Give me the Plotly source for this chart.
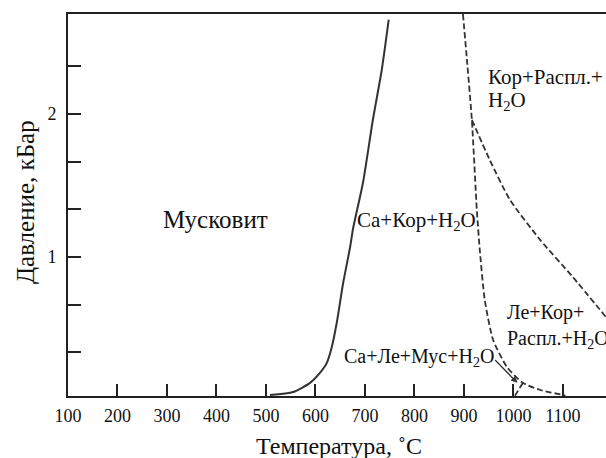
import plotly.graph_objects as go

# Solid curve: Muscovite breakdown
solid_T = [508, 555, 589, 609, 623, 633, 643, 656, 670, 676, 696, 716, 734, 748]
solid_P = [0.035, 0.056, 0.12, 0.19, 0.26, 0.37, 0.54, 0.82, 1.07, 1.20, 1.52, 1.96, 2.31, 2.66]

# Dashed curve A (steep, then bending to the right at low pressure)
dashA_T = [898, 906, 916, 926, 932, 942, 959, 987, 1019, 1054, 1100, 1105]
dashA_P = [2.70, 2.38, 1.96, 1.33, 1.05, 0.70, 0.42, 0.23, 0.12, 0.07, 0.035, 0.03]

# Dashed curve B (branching off A at ~2 kbar)
dashB_T = [916, 952, 993, 1054, 1120, 1187]
dashB_P = [1.96, 1.68, 1.40, 1.12, 0.86, 0.58]

# Short dashed segment near the arrow
dashC_T = [1003, 1019]
dashC_P = [0.03, 0.12]

x_tickvals = [100, 200, 300, 400, 500, 600, 700, 800, 900, 1000, 1100]
y_tickvals = [1/3, 2/3, 1, 4/3, 5/3, 2, 7/3]
y_ticktext = ["", "", "1", "", "", "2", ""]

line_col = "#333333"
axis_col = "#222222"
font_fam = "Liberation Serif"

fig = go.Figure()
fig.add_trace(go.Scatter(x=solid_T, y=solid_P, mode="lines",
                         line=dict(color=line_col, width=2, shape="spline", smoothing=0.6),
                         showlegend=False, hoverinfo="skip"))
for tx, py in [(dashA_T, dashA_P), (dashB_T, dashB_P), (dashC_T, dashC_P)]:
    fig.add_trace(go.Scatter(x=tx, y=py, mode="lines",
                             line=dict(color=line_col, width=1.8, dash="6px,3px",
                                       shape="spline", smoothing=0.6),
                             showlegend=False, hoverinfo="skip"))

ann = [
    dict(x=398, y=1.26, text="Мусковит", size=25, xanchor="center"),
    dict(x=804, y=1.25, text="Ca+Кор+H<sub>2</sub>O", size=21, xanchor="center"),
    dict(x=944, y=2.26, text="Кор+Распл.+", size=21, xanchor="left"),
    dict(x=944, y=2.09, text="H<sub>2</sub>O", size=21, xanchor="left"),
    dict(x=983, y=0.61, text="Ле+Кор+", size=20, xanchor="left"),
    dict(x=983, y=0.42, text="Распл.+H<sub>2</sub>O", size=20, xanchor="left"),
    dict(x=653, y=0.295, text="Ca+Ле+Мус+H<sub>2</sub>O", size=20, xanchor="left"),
]
annotations = []
for a in ann:
    annotations.append(dict(x=a["x"], y=a["y"], text=a["text"], xanchor=a["xanchor"],
                            yanchor="middle", xref="x", yref="y", showarrow=False,
                            font=dict(family=font_fam, size=a["size"], color="#111111")))

annotations.append(dict(x=1008, y=0.12, ax=960, ay=0.29, xref="x", yref="y",
                        axref="x", ayref="y", text="", showarrow=True,
                        arrowhead=2, arrowsize=1, arrowwidth=1.3, arrowcolor=line_col))
annotations.append(dict(x=(339 - 68) / 538, y=(396 - 446) / 382, xref="paper", yref="paper",
                        text="Температура, ˚C", showarrow=False,
                        font=dict(family=font_fam, size=24, color="#111111"),
                        xanchor="center", yanchor="middle"))
annotations.append(dict(x=(25 - 68) / 538, y=(396 - 202) / 382, xref="paper", yref="paper",
                        text="Давление, кБар", showarrow=False, textangle=-90,
                        font=dict(family=font_fam, size=25, color="#111111"),
                        xanchor="center", yanchor="middle"))

fig.update_layout(
    width=606, height=458,
    margin=dict(l=68, r=0, t=14, b=62),
    paper_bgcolor="white", plot_bgcolor="white",
    font=dict(family=font_fam, size=17, color="#111111"),
    annotations=annotations,
    xaxis=dict(range=[100, 1187], tickvals=x_tickvals, ticks="inside", ticklen=12,
               tickwidth=1.5, tickcolor=axis_col, showline=True, linecolor=axis_col,
               linewidth=2, mirror=True, showgrid=False, zeroline=False,
               ticklabelstandoff=2, tickfont=dict(size=18)),
    yaxis=dict(range=[0.028, 2.70], tickvals=y_tickvals, ticktext=y_ticktext,
               ticks="inside", ticklen=13, tickwidth=1.5, tickcolor=axis_col,
               showline=True, linecolor=axis_col, linewidth=2, showgrid=False,
               zeroline=False, tickfont=dict(size=18), ticklabelstandoff=6),
)

fig.write_html("out.html", config={"displayModeBar": False},
               post_script="document.body.style.margin='0';document.body.style.padding='0';")
